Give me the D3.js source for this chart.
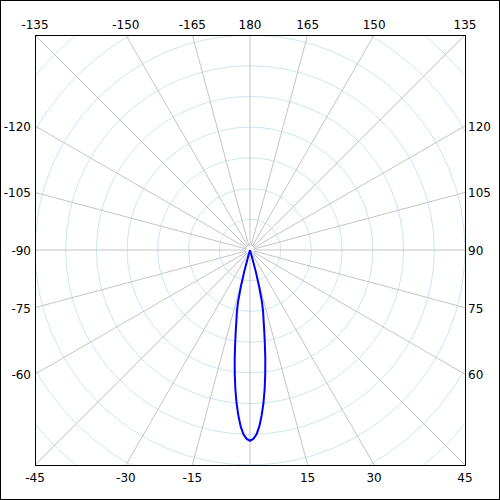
<!DOCTYPE html>
<html>
<head>
<meta charset="utf-8">
<script src="https://cdn.jsdelivr.net/npm/d3@7"></script>
<style>
  body { margin: 0; background: #fff; }
  svg { display: block; }
  .lbl { font-family: "DejaVu Sans", sans-serif; font-size: 12px; fill: #000; }
</style>
</head>
<body>
<svg id="chart" width="500" height="500"></svg>
<script>
// pattern (angle in degrees, radius in grid units of 0.1 per ring)
var angles = [-17, -16, -15, -14, -13, -12, -11, -10, -9, -8, -7, -6, -5, -4, -3, -2, -1,
              0, 1, 2, 3, 4, 5, 6, 7, 8, 9, 10, 11, 12, 13, 14, 15, 16, 17];
var radii = [0.0, 0.020, 0.072, 0.124, 0.173, 0.205, 0.231, 0.267, 0.309, 0.358, 0.407, 0.456, 0.501, 0.541, 0.576, 0.601, 0.615,
             0.621, 0.615, 0.601, 0.576, 0.541, 0.501, 0.456, 0.407, 0.358, 0.309, 0.267, 0.231, 0.205, 0.173, 0.124, 0.072, 0.020, 0.0];

var spokeAngles = d3.range(-180, 180, 15);
var ringValues = d3.range(0.1, 1.01, 0.1);
var tickAngles = [-135, -150, -165, 180, 165, 150, 135,
                  -120, -105, -90, -75, -60,
                  120, 105, 90, 75, 60,
                  -45, -30, -15, 15, 30, 45];

var cx = 250, cy = 250, half = 215;

var svg = d3.select("#chart");

// outer frame
svg.append("rect")
    .attr("x", 0.5).attr("y", 0.5)
    .attr("width", 499).attr("height", 499)
    .attr("fill", "none").attr("stroke", "#000");

svg.append("clipPath")
    .attr("id", "clip")
  .append("rect")
    .attr("x", -half).attr("y", -half)
    .attr("width", 2 * half).attr("height", 2 * half);

// radius: 10 rings of 0.1, ring spacing = half / 7
var r = d3.scaleLinear().domain([0, 1]).range([0, half * 10 / 7]);
// 0 deg points down, 90 deg to the right
var a = d3.scaleLinear().domain([0, 180]).range([Math.PI, 0]);

var g = svg.append("g")
    .attr("transform", "translate(" + cx + "," + cy + ")");

var grid = g.append("g")
    .attr("clip-path", "url(#clip)");

grid.selectAll(".ring")
    .data(ringValues)
  .enter().append("circle")
    .attr("class", "ring")
    .attr("r", function(d) { return r(d); })
    .attr("fill", "none")
    .attr("stroke", "#cde6ee");

grid.selectAll(".spoke")
    .data(spokeAngles)
  .enter().append("line")
    .attr("class", "spoke")
    .attr("x1", function(d) { return 4 * Math.sin(a(d)); })
    .attr("y1", function(d) { return -4 * Math.cos(a(d)); })
    .attr("x2", function(d) { return 400 * Math.sin(a(d)); })
    .attr("y2", function(d) { return -400 * Math.cos(a(d)); })
    .attr("stroke", "#c4c4c4");

// plot box
svg.append("rect")
    .attr("x", cx - half + 0.5).attr("y", cy - half + 0.5)
    .attr("width", 2 * half).attr("height", 2 * half)
    .attr("fill", "none").attr("stroke", "#000");

// angle labels where spokes meet the box
tickAngles.forEach(function(d) {
  var s = Math.sin(a(d)), c = -Math.cos(a(d));
  var t = half / Math.max(Math.abs(s), Math.abs(c));
  var x = cx + t * s, y = cy + t * c;
  var txt = svg.append("text").attr("class", "lbl").text(d);
  if (Math.abs(c) >= Math.abs(s) - 1e-9) {
    txt.attr("x", x).attr("y", c > 0 ? y + 17 : y - 6).attr("text-anchor", "middle");
  } else if (s < 0) {
    txt.attr("x", x - 4).attr("y", y + 5).attr("text-anchor", "end");
  } else {
    txt.attr("x", x + 3).attr("y", y + 5).attr("text-anchor", "start");
  }
});

var line = d3.lineRadial()
    .angle(function(d, i) { return a(angles[i]); })
    .radius(function(d) { return r(d); })
    .curve(d3.curveLinear);

g.append("path")
    .datum(radii)
    .attr("d", line)
    .attr("fill", "none")
    .attr("stroke", "#0000ff")
    .attr("stroke-width", 2);
</script>
</body>
</html>
